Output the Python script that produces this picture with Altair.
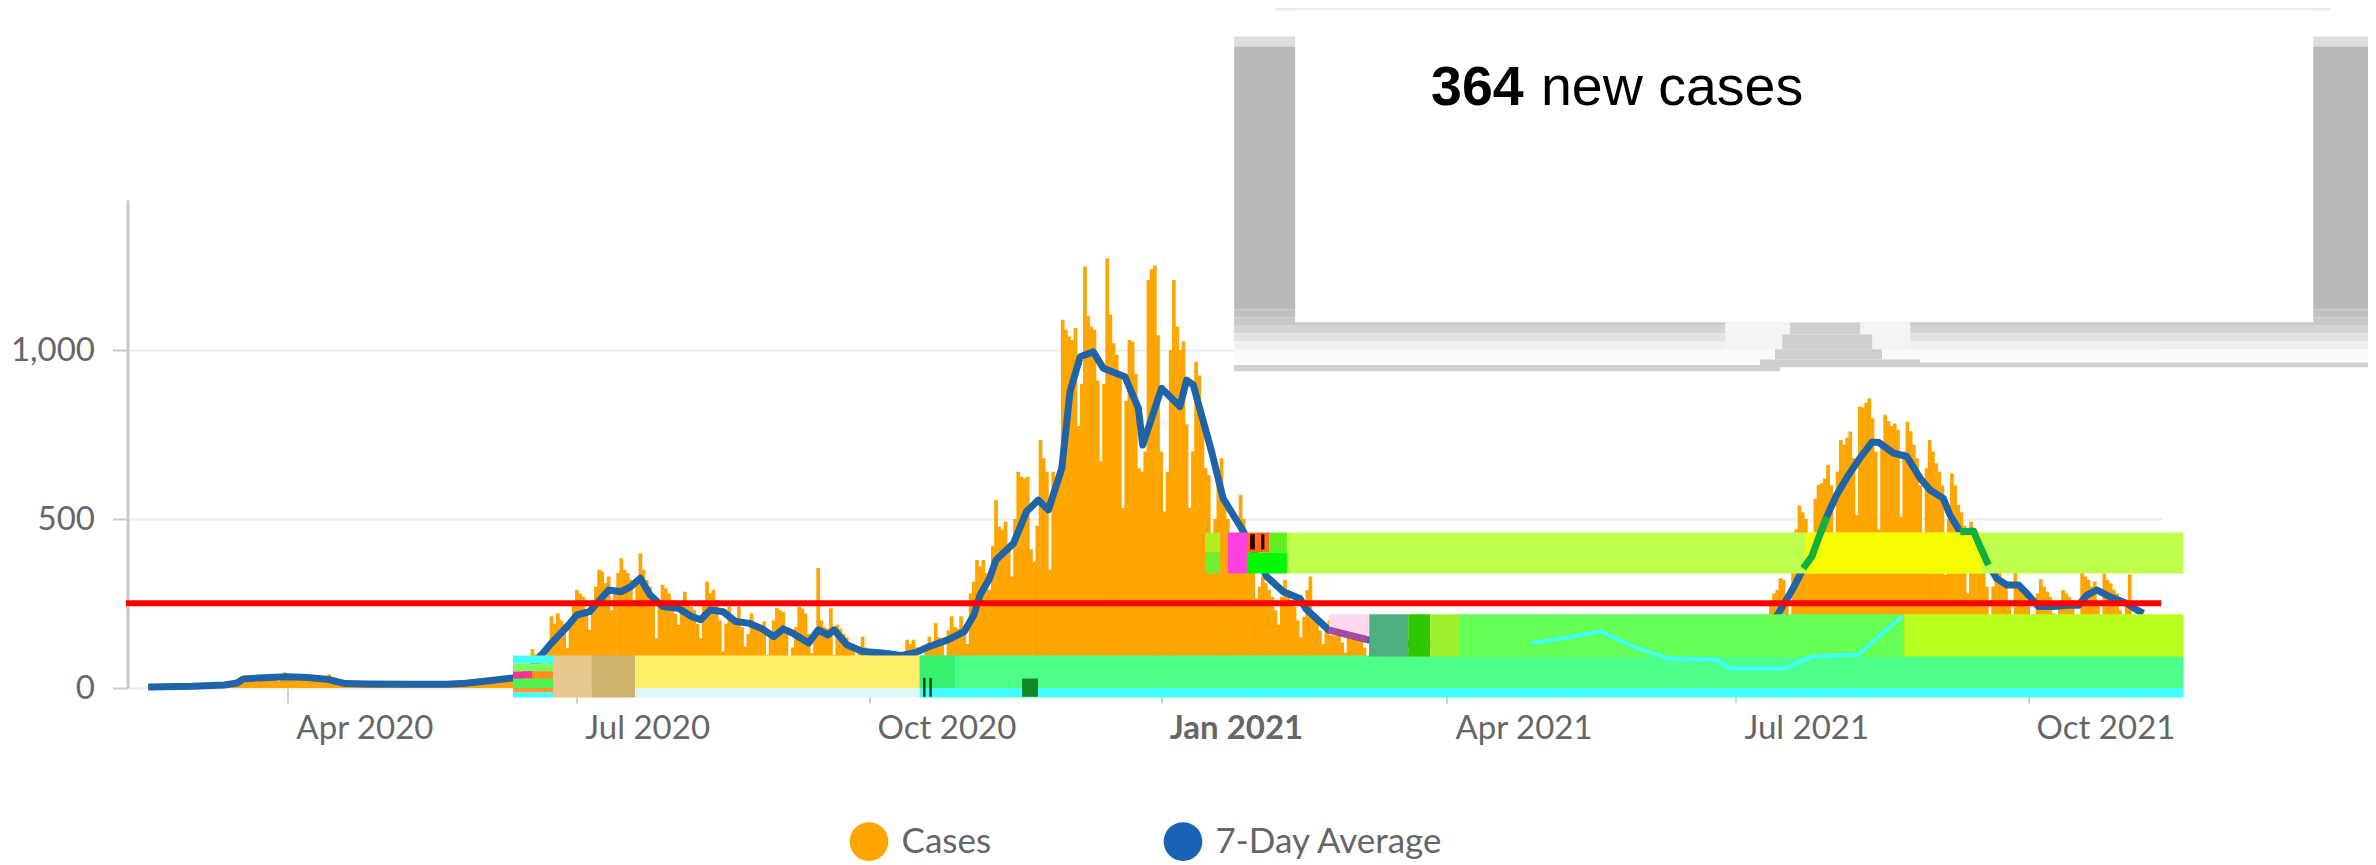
import altair as alt
import pandas as pd

ORIGIN = pd.Timestamp("2020-04-01")


def day_to_date(d):
    return ORIGIN + pd.Timedelta(days=float(d))


# Daily cases, one row per week (Mon..Sun), first row starts 2020-02-17
cases_weeks = [
    [1, 2, 1, 2, 3, 2, 1], [3, 4, 3, 4, 5, 3, 2], [4, 5, 4, 6, 6, 4, 3],
    [7, 8, 10, 12, 14, 9, 6], [24, 28, 30, 27, 30, 22, 18], [28, 32, 34, 30, 32, 24, 20],
    [30, 46, 36, 34, 32, 26, 22], [28, 32, 30, 30, 34, 26, 20], [30, 40, 26, 24, 22, 18, 10],
    [12, 14, 12, 12, 13, 10, 8], [12, 14, 13, 12, 11, 9, 7], [12, 14, 13, 13, 12, 10, 8],
    [13, 14, 12, 13, 12, 9, 7], [12, 15, 14, 13, 14, 10, 8], [14, 18, 20, 22, 24, 18, 14],
    [22, 28, 30, 28, 30, 24, 18], [24, 30, 34, 36, 40, 30, 24], [40, 70, 115, 100, 105, 85, 60],
    [120, 212, 190, 221, 200, 190, 118], [180, 250, 290, 280, 270, 230, 172],
    [260, 300, 350, 345, 310, 330, 230], [290, 340, 384, 350, 340, 320, 250],
    [320, 399, 350, 320, 300, 270, 147], [240, 305, 295, 280, 260, 220, 187],
    [230, 285, 250, 240, 230, 190, 147], [250, 315, 280, 290, 260, 200, 108],
    [190, 241, 210, 200, 241, 180, 123], [160, 221, 190, 180, 170, 197, 98],
    [150, 200, 236, 230, 225, 170, 93], [120, 180, 241, 235, 220, 160, 103],
    [170, 355, 200, 180, 175, 236, 98], [187, 175, 160, 150, 130, 120, 70],
    [110, 152, 120, 110, 105, 85, 60], [95, 110, 105, 100, 100, 85, 60],
    [100, 143, 130, 143, 120, 90, 70], [120, 152, 130, 192, 150, 130, 90],
    [170, 212, 180, 175, 212, 160, 130], [280, 315, 379, 360, 379, 340, 290],
    [420, 556, 478, 468, 492, 420, 330], [500, 640, 625, 620, 625, 410, 374],
    [480, 734, 680, 640, 350, 640, 620], [650, 1090, 1060, 1040, 1030, 1065, 775],
    [900, 1247, 1100, 1070, 1060, 910, 670], [900, 1272, 1105, 1020, 985, 920, 533],
    [850, 1030, 1025, 930, 650, 640, 700], [1207, 1240, 1250, 1044, 700, 522, 640],
    [1000, 1207, 1070, 1000, 1025, 780, 533], [700, 965, 925, 800, 650, 630, 453],
    [500, 620, 680, 560, 500, 420, 340], [450, 571, 500, 440, 400, 340, 265],
    [300, 330, 310, 290, 270, 230, 187], [270, 320, 290, 260, 240, 200, 150],
    [210, 290, 330, 220, 200, 170, 130], [170, 200, 180, 175, 165, 135, 105],
    [150, 170, 160, 155, 150, 120, 95], [145, 165, 155, 150, 145, 115, 90],
    [140, 160, 150, 150, 140, 110, 85], [135, 155, 145, 140, 135, 105, 80],
    [130, 150, 140, 135, 120, 100, 75], [125, 150, 140, 135, 130, 100, 80],
    [130, 155, 145, 140, 135, 105, 85], [135, 165, 155, 150, 140, 110, 90],
    [130, 160, 150, 145, 135, 105, 85], [125, 150, 145, 140, 130, 100, 80],
    [120, 140, 130, 125, 120, 90, 70], [100, 120, 115, 110, 105, 80, 60],
    [85, 105, 100, 95, 90, 70, 55], [60, 85, 80, 75, 70, 55, 40],
    [70, 85, 80, 75, 70, 55, 40], [75, 90, 85, 80, 75, 55, 45],
    [90, 105, 100, 100, 95, 70, 55], [110, 130, 130, 125, 120, 90, 60],
    [120, 150, 170, 170, 165, 130, 100], [250, 280, 290, 325, 320, 270, 180],
    [380, 470, 540, 520, 500, 450, 340], [560, 601, 606, 620, 660, 600, 420],
    [640, 734, 720, 740, 759, 680, 512], [833, 830, 845, 857, 798, 700, 468],
    [720, 808, 790, 775, 783, 764, 507], [700, 788, 760, 720, 680, 600, 420],
    [650, 734, 700, 665, 640, 600, 335], [500, 635, 600, 542, 520, 480, 280],
    [492, 460, 430, 400, 370, 300, 180], [300, 383, 350, 320, 300, 250, 170],
    [380, 300, 290, 280, 260, 210, 150], [280, 322, 300, 285, 270, 220, 150],
    [240, 290, 280, 270, 260, 200, 160], [413, 330, 320, 300, 315, 250, 190],
    [339, 320, 310, 290, 280, 230, 180], [250, 336, 210, 200, 190, 160],
]

# 7-day average, read point by point (days after 2020-04-01)
avg_day = [
    -44, -30, -20, -16, -14, -8, 0, 6, 13, 18, 25, 40, 50, 56, 64, 71, 75, 79, 83, 88, 91, 95,
    101, 105, 108, 111, 114, 118, 123, 127, 130, 133, 137, 141, 145, 149, 153, 156, 159, 164,
    167, 170, 172, 176, 181, 188, 193, 198, 202, 208, 213, 216, 218, 221, 223, 228.5, 232.6,
    236.3, 239.5, 243.7, 246.3, 249.5, 253.6, 256.8, 263.6, 267.8, 269.2, 275.1, 280.9, 283,
    285.1, 290.9, 294.5, 300.9, 308.2, 313.4, 318.7, 320.5, 327.7, 340, 350, 380, 410, 430,
    450, 460, 469.4, 474, 477.2, 479.9, 482, 484.6, 487.7, 491.4, 495, 498.8, 500.9, 505.6,
    509.8, 514, 517.1, 521.3, 523.4, 526.6, 530.8, 532.9, 535.5, 538.1, 541.3, 545, 547.6,
    551.3, 556, 560.2, 563.9, 566.5, 569.6, 573.8, 579.1, 582.2, 584.3,
]
avg_value = [
    3, 5, 9, 15, 27, 30, 33, 31, 25, 13, 12, 11, 11, 14, 22, 30, 42, 88, 133, 182, 216, 226,
    290, 285, 300, 325, 276, 241, 236, 212, 202, 231, 226, 197, 192, 177, 152, 175, 162, 133,
    172, 157, 172, 128, 108, 103, 96, 106, 123, 143, 167, 216, 276, 325, 379, 428, 522,
    556, 527, 650, 877, 980, 995, 946, 921, 828, 719, 887, 833, 911,
    897, 699, 561, 463, 330, 285, 265, 235, 172, 143, 130, 125, 120, 85,
    75, 110, 221, 295, 354, 389, 443, 507, 571, 630, 680, 727, 727, 695,
    685, 621, 586, 561, 512, 462, 464, 418, 364, 324, 305, 305, 280,
    241, 241, 245, 245, 275, 290, 270, 250, 231, 221,
]

# The stray cyan trace inside the lower green band
ghost_day = [391.8, 400.5, 413.5, 425, 435, 449.7, 454, 471.4, 480, 494.5, 501.7, 508.2]
ghost_value = [133, 146, 167, 117, 87, 84, 58, 58, 93, 99, 158, 211]

threshold_day = [-51, 589.9]
threshold_value = [251, 251]

tick_dates = ["2020-04-01", "2020-07-01", "2020-10-01", "2021-01-01", "2021-04-01", "2021-07-01", "2021-10-01"]
y_ticks = [0, 500, 1000]
series_names = ["Cases", "7-Day Average"]
series_colors = ["#ffa500", "#1a62b4"]

# Coloured bands (first day, last day, low value, high value, colour)
band_rows = [
    (70.9, 83.5, 72.5, 96, "#44ffff"), (70.9, 83.5, 49, 72.5, "#7aff60"), (70.9, 77, 28, 49, "#ff3090"),
    (77, 83.5, 28, 49, "#ff9020"), (70.9, 83.5, 0, 28, "#50f050"), (70.9, 83.5, -13, 0, "#ff9a30"),
    (70.9, 83.5, -28, -13, "#44ffff"),
    (83.5, 95.7, -28, 96, "#e8c890"), (95.7, 109.3, -28, 96, "#cdb26c"),
    (109.3, 199, 0, 96, "#ffef6a"), (109.3, 199, -28, 0, "#dff8f8"),
    (199, 596.9, 0, 96, "#4dff88"), (199, 596.9, -28, 0, "#44ffff"),
    (199, 210, 0, 96, "#38f070"), (231.2, 236.2, -26, 28, "#128a20"),
    (200, 200.8, -26, 30, "#0a4a12"), (202, 202.8, -26, 30, "#0a4a12"),
    (340.5, 352.8, 93, 218, "#4fae7f"), (352.8, 359.7, 93, 218, "#2fc800"),
    (359.7, 369.1, 93, 218, "#a0f030"), (369.1, 509, 93, 218, "#66ff55"), (509, 596.9, 93, 218, "#b8ff20"),
    (314.6, 596.9, 339, 460, "#bfff4d"), (478, 533.5, 339, 460, "#f5fb00"),
    (288.8, 293.5, 401, 460, "#b0f020"), (288.8, 293.5, 339, 401, "#70ee30"),
    (296, 302, 339, 460, "#ff40e0"), (302, 309, 401, 460, "#ff6a20"), (309, 314.6, 401, 460, "#60f020"),
    (302, 314.6, 339, 401, "#00f800"),
    (303, 304.5, 410, 455, "#300000"), (306.5, 307.5, 410, 455, "#300000"),
    (327.9, 340.5, 155, 218, "#ffd8f0"),
]

# The call-out (first day, last day, low value, high value, colour)
callout_rows = [
    (310.9, 643.1, 2005, 2037, "#eaeaea"),
    (298, 660, 1898, 1928, "#dcdcdc"), (298, 660, 1120, 1898, "#b9b9b9"),
    (298, 660, 1096, 1120, "#c0c0c0"), (298, 660, 1072, 1096, "#c8c8c8"),
    (298, 660, 1049, 1072, "#d4d4d4"), (298, 660, 1025, 1049, "#e2e2e2"),
    (298, 660, 1002, 1025, "#f0f0f0"), (298, 660, 963, 1002, "#fafafa"),
    (298, 469.9, 937, 956, "#d0d0d0"), (514, 660, 949, 963, "#d0d0d0"),
    (452.6, 510.9, 1002, 1082, "#f4f4f4"),
    (473, 495.1, 1046, 1082, "#cfcfcf"), (470.6, 498.9, 1002, 1046, "#cfcfcf"),
    (468.3, 502, 972, 1002, "#cfcfcf"), (463.6, 514, 949, 972, "#cfcfcf"),
    (317.2, 637.8, 1082, 2005, "#ffffff"),
]

rows = []
for w, week in enumerate(cases_weeks):
    for i, v in enumerate(week):
        rows.append({"date": day_to_date(-44 + w * 7 + i), "value": v, "series": "Cases"})
cases_df = pd.DataFrame(rows)

avg_df = pd.DataFrame({"day": avg_day, "value": avg_value})
avg_df["date"] = avg_df["day"].map(day_to_date)
ghost_df = pd.DataFrame({"date": [day_to_date(d) for d in ghost_day], "value": ghost_value})
red_df = pd.DataFrame({"date": [day_to_date(threshold_day[0])], "date2": [day_to_date(threshold_day[1])], "value": [threshold_value[0]]})


def rect_table(table):
    return pd.DataFrame(
        [
            {"d0": day_to_date(a), "d1": day_to_date(b), "v0": c, "v1": d, "fill": e}
            for a, b, c, d, e in table
        ]
    )


x_scale = alt.Scale(
    domain=[
        alt.DateTime(year=2020, month=2, date=10, hours=12),
        alt.DateTime(year=2021, month=11, date=12),
    ],
    padding=0,
)
y_scale = alt.Scale(domain=[0, 1444], nice=False)
FONT = "Lato"

x_axis = alt.Axis(
    values=tick_dates,
    format="%b %Y",
    grid=False,
    domain=False,
    tickColor="#cfcfcf",
    tickWidth=2,
    tickSize=15,
    labelAlign="left",
    labelOffset=8,
    labelPadding=9,
    labelFont=FONT,
    labelFontSize=33,
    labelColor="#666666",
    labelFontWeight={"expr": "month(datum.value) == 0 ? 'bold' : 'normal'"},
    labelFlush=False,
    labelOverlap=False,
)
y_axis = alt.Axis(
    values=y_ticks,
    labelExpr="format(datum.value, ',d')",
    gridColor="#ececec",
    gridWidth=2,
    domainColor="#c8c8c8",
    domainWidth=3,
    tickColor="#c8c8c8",
    tickWidth=2,
    tickSize=15,
    labelPadding=18,
    labelFont=FONT,
    labelFontSize=33,
    labelColor="#666666",
)


def xq(field):
    return alt.X(field, scale=x_scale, title=None, axis=x_axis)


def yq(field):
    return alt.Y(field, scale=y_scale, title=None, axis=y_axis)


bars = (
    alt.Chart(cases_df)
    .mark_bar(size=3.7)
    .encode(
        x=xq("date:T"),
        y=yq("value:Q"),
        color=alt.Color(
            "series:N",
            scale=alt.Scale(domain=series_names, range=series_colors),
            sort=series_names,
            title=None,
            legend=alt.Legend(
                orient="none",
                legendX=722,
                legendY=622,
                direction="horizontal",
                symbolType="circle",
                symbolSize=1500,
                symbolStrokeWidth=0,
                symbolOpacity=1,
                labelFont=FONT,
                labelFontSize=35,
                labelColor="#666666",
                labelOffset=13,
                labelLimit=500,
                columnPadding=172,
                padding=0,
            ),
        ),
    )
)


def line_layer(df, color, width):
    return (
        alt.Chart(df)
        .mark_line(color=color, strokeWidth=width, strokeJoin="round")
        .encode(x=xq("date:T"), y=yq("value:Q"))
    )


avg_line = line_layer(avg_df, "#1f63a8", 7)


def rects(table):
    return (
        alt.Chart(rect_table(table))
        .mark_rect()
        .encode(
            x=xq("d0:T"),
            x2=alt.X2("d1:T"),
            y=yq("v0:Q"),
            y2=alt.Y2("v1:Q"),
            fill=alt.Fill("fill:N", scale=None),
        )
    )


bands = rects(band_rows)

green_a = line_layer(avg_df[(avg_df.day >= 476) & (avg_df.day <= 484.6)], "#10b040", 7)
green_b = line_layer(avg_df[(avg_df.day >= 526.6) & (avg_df.day <= 535.5)], "#10b040", 7)
purple = line_layer(avg_df[(avg_df.day >= 327.7) & (avg_df.day <= 340)], "#a848a0", 7)
ghost = line_layer(ghost_df, "#40ffff", 4)

red_rule = (
    alt.Chart(red_df)
    .mark_rule(color="#ff0000", strokeWidth=6)
    .encode(x=xq("date:T"), x2="date2:T", y=yq("value:Q"))
)
callout = rects(callout_rows)

text_df = pd.DataFrame(
    {
        "date": [day_to_date(360), day_to_date(394.6)],
        "value": [1726, 1726],
        "label": ["364", "new cases"],
        "weight": ["bold", "normal"],
    }
)
text_bold = (
    alt.Chart(text_df[text_df.weight == "bold"])
    .mark_text(align="left", baseline="alphabetic", font="Liberation Sans", fontSize=55.5, fontWeight="bold", color="#000000")
    .encode(x=xq("date:T"), y=yq("value:Q"), text="label:N")
)
text_plain = (
    alt.Chart(text_df[text_df.weight == "normal"])
    .mark_text(align="left", baseline="alphabetic", font="Liberation Sans", fontSize=55.5, color="#000000")
    .encode(x=xq("date:T"), y=yq("value:Q"), text="label:N")
)

chart = (
    alt.layer(bars, avg_line, bands, green_a, green_b, purple, ghost, red_rule, callout, text_bold, text_plain)
    .properties(
        width=2034,
        height=488,
        autosize=alt.AutoSizeParams(type="none"),
        padding={"left": 119.5, "top": 192, "right": 206.5, "bottom": 178},
        background="#ffffff",
    )
    .configure_view(stroke=None)
)

chart.save("out.html", embed_options={"renderer": "svg", "actions": False})
